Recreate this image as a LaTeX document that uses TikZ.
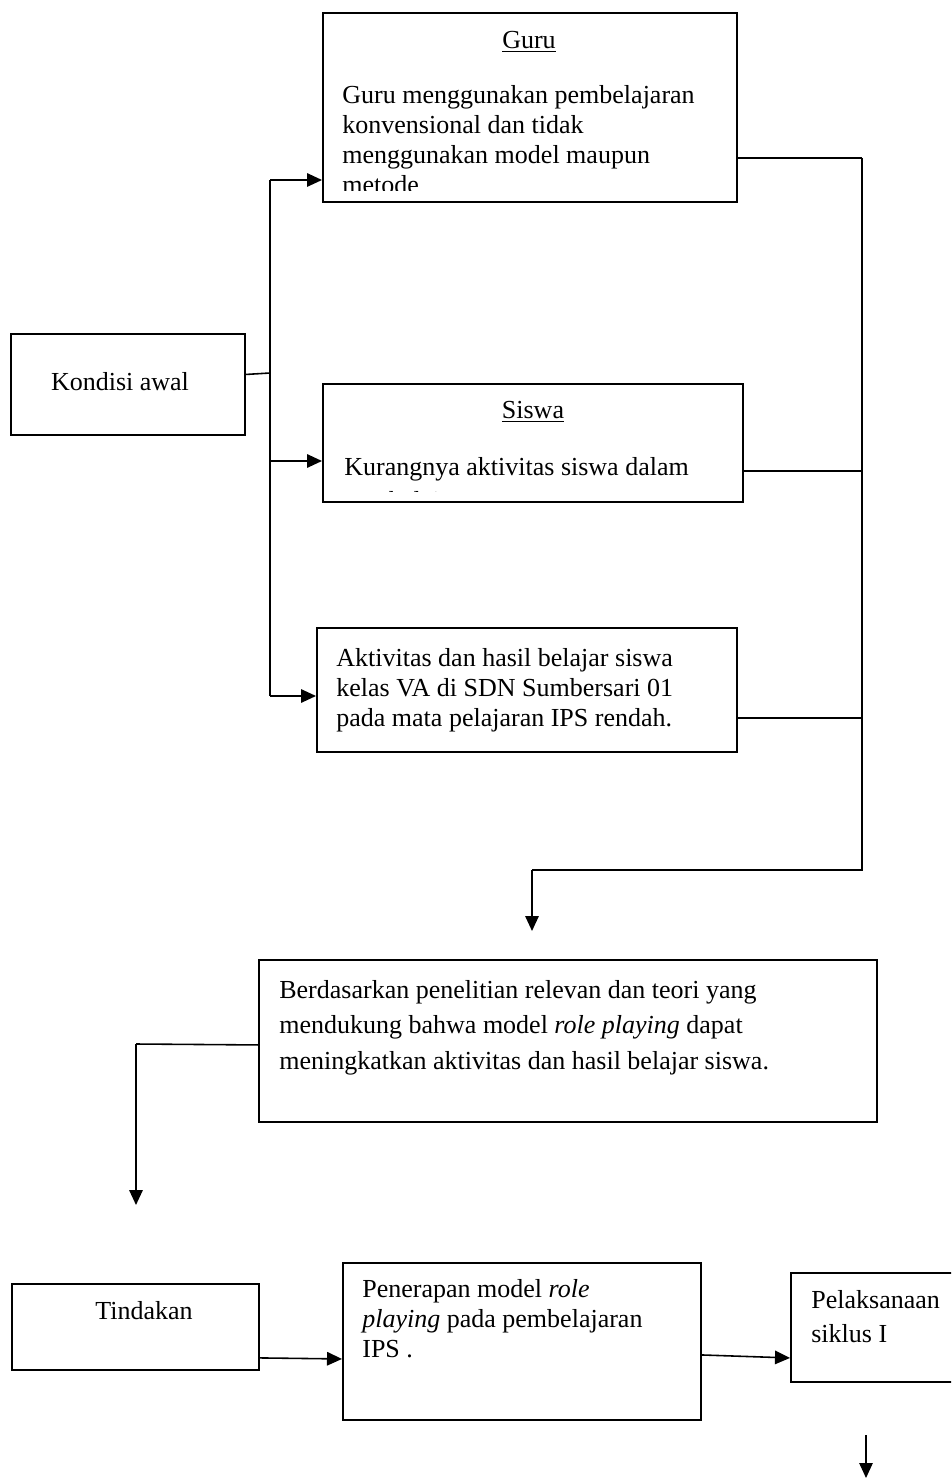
\documentclass[tikz,border=0pt]{standalone}
\usepackage{fontspec}
\setmainfont{Liberation Serif}
\usetikzlibrary{arrows.meta}

\tikzset{
	box/.style={draw,line width=1.1pt,inner sep=0pt,anchor=north west},
	title/.style={inner sep=0pt,anchor=base,font=\fontsize{14.8}{17.2}\selectfont},
	txt/.style={inner sep=0pt,anchor=base west,align=left,font=\fontsize{14.8}{#1}\selectfont},
	txt/.default=17.2pt,
	conn/.style={line width=0.9pt},
	flow/.style={line width=0.9pt,-{Triangle[length=0.3cm,width=0.27cm]}}
}

\begin{document}
\begin{tikzpicture}[x=0.02cm,y=-0.02cm]
	\clip (0,0) rectangle (951,1479);
	
	%BOXES
	\node[box,minimum width=8.28cm,minimum height=3.78cm] (guru) at (322,12) {};
	\node[box,minimum width=4.68cm,minimum height=2.02cm] (kondisi) at (10,333) {};
	\node[box,minimum width=8.40cm,minimum height=2.36cm] (siswa) at (322,383) {};
	\node[box,minimum width=8.40cm,minimum height=2.48cm] (aktiv) at (316,627) {};
	\node[box,minimum width=12.36cm,minimum height=3.24cm] (dasar) at (258,959) {};
	\node[box,minimum width=4.94cm,minimum height=1.72cm] (tindakan) at (11,1283) {};
	\node[box,minimum width=7.16cm,minimum height=3.14cm] (terap) at (342,1262) {};
	\node[box,minimum width=4.00cm,minimum height=2.18cm] (laksana) at (790,1272) {};
	
	%TEXT -- TOP (placed at the baseline of the last line)
	\node[title] (gurut) at (529,49) {\underline{Guru}};
	\begin{scope}
		\clip (323,13) rectangle (735,191);
		\node[txt] (gurub) at (342,194) {Guru menggunakan pembelajaran\\konvensional dan tidak\\menggunakan model maupun\\metode};
	\end{scope}
	\node[title] (kondisit) at (120,391) {Kondisi awal};
	\node[title] (siswat) at (533,419) {\underline{Siswa}};
	\begin{scope}
		\clip (323,384) rectangle (741,491);
		\node[txt=19.3pt] (siswab) at (344,509) {Kurangnya aktivitas siswa dalam\\pembelajaran};
	\end{scope}
	\node[txt=17pt] (aktivb) at (336,726) {Aktivitas dan hasil belajar siswa\\kelas VA di SDN Sumbersari 01\\pada mata pelajaran IPS rendah.};
	
	%TEXT -- BOTTOM
	\node[txt=20.1pt] (dasarb) at (279,1069) {Berdasarkan penelitian relevan dan teori yang\\mendukung bahwa model \textit{role playing} dapat\\meningkatkan aktivitas dan hasil belajar siswa.};
	\node[title] (tindakant) at (144,1319) {Tindakan};
	\node[txt=17pt] (terapb) at (362,1357) {Penerapan model \textit{role}\\\textit{playing} pada pembelajaran\\IPS .};
	\node[txt=19.3pt] (laksanab) at (811,1342) {Pelaksanaan\\siklus I};
	
	%free ends
	\coordinate (split) at (270,373);
	\coordinate (drop) at (532,931);
	\coordinate (turn) at (136,1044);
	\coordinate (down) at (136,1205);
	\coordinate (next) at (866,1478);
	
	%LINES -- LEFT
	\draw[conn] ([yshift=0.2cm]kondisi.east) -- (split);
	\draw[conn] (270,180) -- (270,696);
	\foreach \n/\y in {guru/180,siswa/461,aktiv/696}
		\draw[flow] (270,\y) -- (\n.west |- 0,\y);
	
	%LINES -- RIGHT
	\foreach \n/\y in {guru/158,siswa/471,aktiv/718}
		\draw[conn] (\n.east |- 0,\y) -- (862,\y);
	\draw[conn] (862,158) -- (862,870) -- (532,870);
	\draw[flow] (532,870) -- (drop);
	
	%LINES -- BOTTOM
	\draw[conn] ([yshift=-0.08cm]dasar.west) -- (turn);
	\draw[flow] (turn) -- (down);
	\draw[flow] ([yshift=0.26cm]tindakan.south east) -- ([yshift=-0.35cm]terap.west);
	\draw[flow] ([yshift=-0.27cm]terap.east) -- ([yshift=-0.61cm]laksana.west);
	\draw[flow,line width=0.7pt] (866,1435) -- (next);
	
\end{tikzpicture}
\end{document}
